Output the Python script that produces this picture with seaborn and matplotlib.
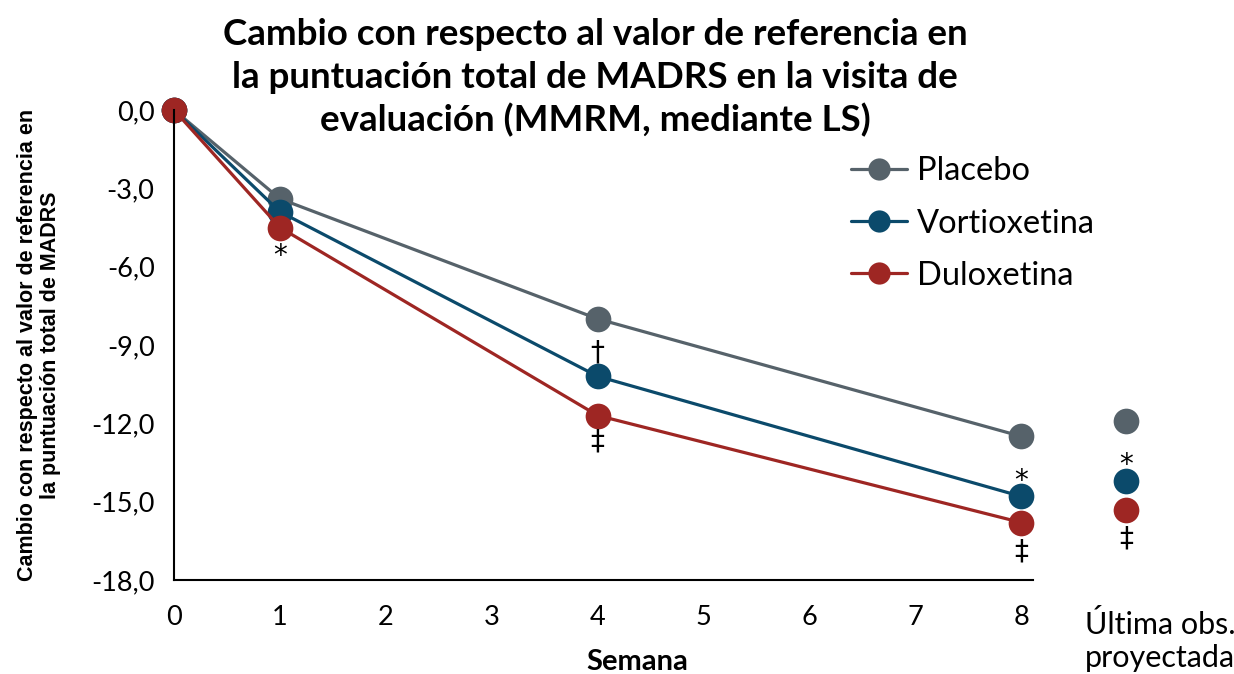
import numpy as np
import pandas as pd
import matplotlib
matplotlib.use("Agg")
import matplotlib.pyplot as plt
import seaborn as sns

# data
semanas = [0, 1, 4, 8]
placebo = [0.0, -3.4, -8.0, -12.5]
vortioxetina = [0.0, -3.9, -10.2, -14.8]
duloxetina = [0.0, -4.5, -11.7, -15.8]
locf = {"Placebo": -11.9, "Vortioxetina": -14.2, "Duloxetina": -15.3}
grupos = ["Placebo", "Vortioxetina", "Duloxetina"]
colores = ["#56626a", "#0b4a6b", "#9e2623"]
y_ticks = [0, -3, -6, -9, -12, -15, -18]

sns.set_style("white")
plt.rcParams["font.family"] = ["Lato", "DejaVu Sans"]
plt.rcParams["text.color"] = "black"
plt.rcParams["axes.labelcolor"] = "black"

df = pd.DataFrame({
    "semana": semanas * 3,
    "cambio": placebo + vortioxetina + duloxetina,
    "grupo": sum([[g] * len(semanas) for g in grupos], []),
})
palette = dict(zip(grupos, colores))

fig = plt.figure(figsize=(12.34, 6.74), dpi=100)
ax = fig.add_axes([174 / 1234, 1 - 580 / 674, (1033 - 174) / 1234, (580 - 110) / 674])

sns.lineplot(data=df, x="semana", y="cambio", hue="grupo", palette=palette,
             marker="o", markersize=18.5, markeredgewidth=0, linewidth=2.3,
             ax=ax, clip_on=False, legend=False)

# last observation carried forward, outside axes
for g in grupos:
    ax.plot(8.99, locf[g], "o", color=palette[g], markersize=18.5,
            markeredgewidth=0, clip_on=False)

ax.set_xlim(0, 8.11)
ax.set_ylim(-18, 0)
ax.set_xticks(range(9))
ax.set_yticks(y_ticks)
ax.set_yticklabels([f"{v:.1f}".replace(".", ",") for v in y_ticks])
ax.tick_params(axis="both", direction="out", length=6, width=1.5, labelsize=19.5,
               colors="black", pad=8)
ax.tick_params(axis="x", pad=12)
for s in ["top", "right"]:
    ax.spines[s].set_visible(False)
for s in ["left", "bottom"]:
    ax.spines[s].set_linewidth(1.5)
    ax.spines[s].set_color("black")

ax.set_xlabel("Semana", fontsize=21, fontweight="bold")
ax.xaxis.set_label_coords((637 - 174) / 859, -(662 - 580) / 470)
ax.xaxis.label.set_va("center")
ax.set_ylabel("Cambio con respecto al valor de referencia en\nla puntuación total de MADRS",
              fontsize=15.5, fontweight="bold", family=["Liberation Sans", "DejaVu Sans"],
              labelpad=22, linespacing=1.1)

# significance marks
marcas = [(1, -5.6, "*"), (4, -9.3, "†"), (4, -12.7, "‡"),
          (8, -14.2, "*"), (8, -16.9, "‡"), (8.99, -13.6, "*"), (8.99, -16.4, "‡")]
for x, y, t in marcas:
    ax.text(x, y, t, ha="center", va="center", fontsize=20,
            clip_on=False, family=["DejaVu Sans"])

fig.text(1160 / 1234, 1 - 641 / 674, "Última obs.\nproyectada", ha="center",
         va="center", fontsize=22, linespacing=1.2)

fig.text(595 / 1234, 1 - 78 / 674,
         "Cambio con respecto al valor de referencia en\nla puntuación total de MADRS en la visita de\nevaluación (MMRM, mediante LS)",
         ha="center", va="center", fontsize=26.5, fontweight="bold", linespacing=1.34)

handles = [plt.Line2D([], [], color=c, marker="o", markersize=16, markeredgewidth=0,
                      linewidth=2.3) for c in colores]
fig.legend(handles, grupos, loc="upper left", bbox_to_anchor=(822 / 1234, 1 - 127 / 674),
           frameon=False, fontsize=23.5, handlelength=1.7, labelspacing=0.68,
           handletextpad=0.3)

fig.savefig("out.png", dpi=100)
